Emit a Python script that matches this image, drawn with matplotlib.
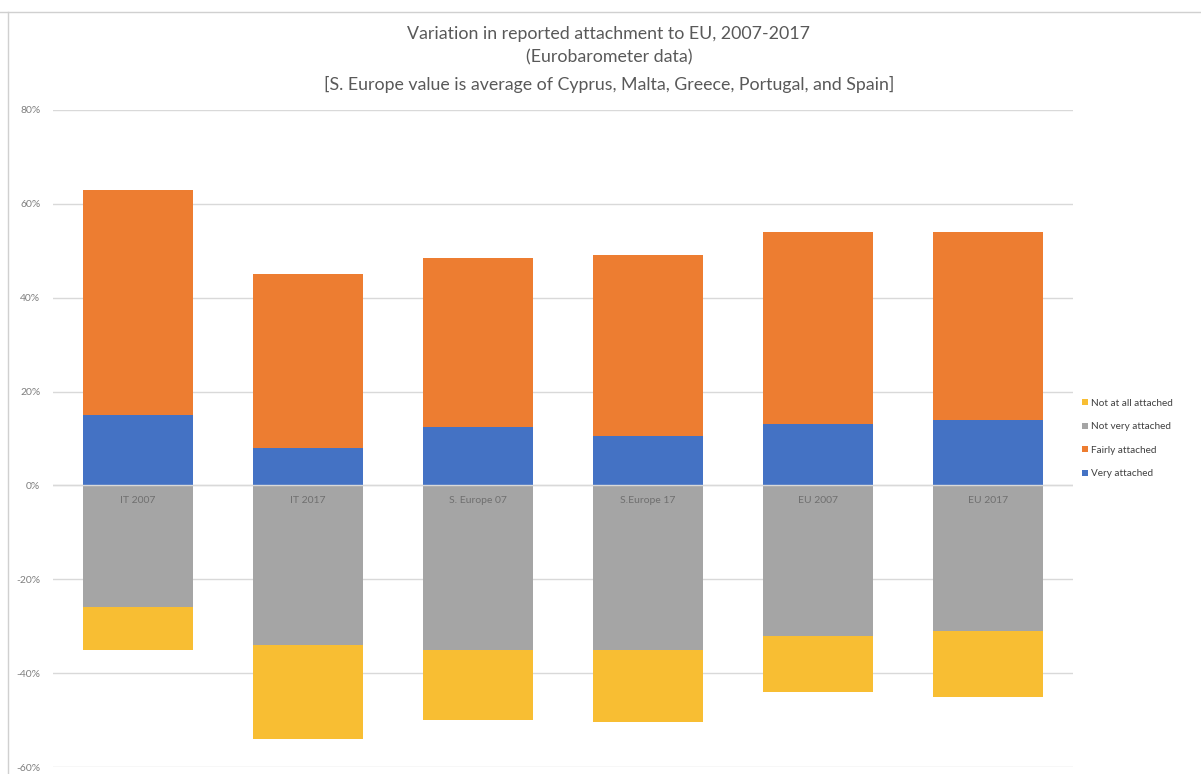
import numpy as np
import matplotlib.pyplot as plt
from matplotlib.lines import Line2D
from matplotlib.ticker import FuncFormatter

categories = ['IT 2007', 'IT 2017', 'S. Europe 07', 'S.Europe 17', 'EU 2007', 'EU 2017']
very_attached = [15, 8, 12.5, 10.5, 13, 14]
fairly_attached = [48, 37, 36, 38.5, 41, 40]
not_very_attached = [-26, -34, -35, -35, -32, -31]
not_at_all_attached = [-9, -20, -15, -15.5, -12, -14]

plt.rcParams['font.family'] = ['Lato', 'DejaVu Sans']

fig = plt.figure(figsize=(12.01, 7.74), dpi=100)
ax = fig.add_axes([0.0441, 0.009, 0.8493, 0.849])

x = np.arange(len(categories))
w = 0.645
very = np.array(very_attached)
fairly = np.array(fairly_attached)
notvery = np.array(not_very_attached)
notall = np.array(not_at_all_attached)

b1 = ax.bar(x, very, w, color='#4472C4', label='Very attached', zorder=3)
b2 = ax.bar(x, fairly, w, bottom=very, color='#ED7D31', label='Fairly attached', zorder=3)
b3 = ax.bar(x, notvery, w, color='#A5A5A5', label='Not very attached', zorder=3)
b4 = ax.bar(x, notall, w, bottom=notvery, color='#F8BE33', label='Not at all attached', zorder=3)

ax.set_xlim(-0.5, len(categories) - 0.5)
ax.set_ylim(-60, 80)
ax.set_yticks(np.arange(-60, 81, 20))
ax.yaxis.set_major_formatter(FuncFormatter(lambda v, p: '%d%%' % v))
ax.grid(axis='y', color='#D9D9D9', linewidth=1, zorder=0)
ax.tick_params(axis='y', length=0, labelsize=7.5, labelcolor='#7F7F7F', pad=9)
ax.set_xticks([])
for s in ax.spines.values():
    s.set_visible(False)
ax.axhline(0, color='#D9D9D9', linewidth=1, zorder=4)

for i, c in enumerate(categories):
    ax.text(i, -3.2, c, ha='center', va='center', fontsize=7.5, color='#6F6F6F', zorder=5)

handles = [b4, b3, b2, b1]
ax.legend(handles, [h.get_label() for h in handles], loc='center left',
          bbox_to_anchor=(1.0, 0.50), frameon=False, fontsize=7.2,
          handlelength=0.6, handleheight=0.6, handletextpad=0.35,
          labelspacing=1.45, labelcolor='#404040')

title_lines = ['Variation in reported attachment to EU, 2007-2017',
               '(Eurobarometer data)',
               '[S. Europe value is average of Cyprus, Malta, Greece, Portugal, and Spain]']
for ty, t in zip([0.956, 0.926, 0.891], title_lines):
    fig.text(0.507, ty, t, ha='center', va='center', fontsize=12.8, color='#595959')

# outer chart frame lines
fig.add_artist(Line2D([0, 1], [0.985, 0.985], color='#D0D0D0', linewidth=1))
fig.add_artist(Line2D([0.007, 0.007], [0, 0.985], color='#D0D0D0', linewidth=1))

plt.savefig('out.png')
